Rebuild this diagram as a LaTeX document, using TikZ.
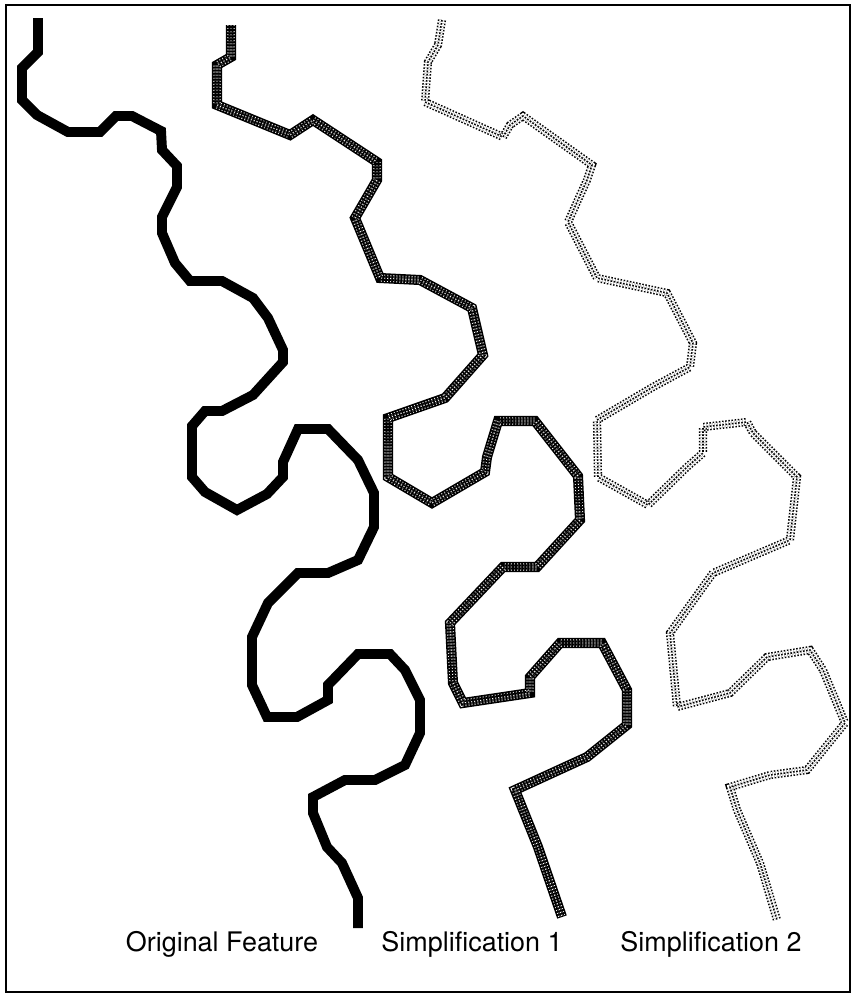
\documentclass[tikz,border=0pt]{standalone}
\usepackage{fontspec}
\setmainfont{TeX Gyre Heros}
\usetikzlibrary{positioning}
\definecolor{inkcolor}{RGB}{0,0,0}
\tikzset{
  orig/.style     = {draw=inkcolor, line width=8.5pt},
  simpbase/.style = {draw=inkcolor, line width=8.6pt},
  holes/.style    = {draw=white, line width=0.8pt, dash pattern=on 0.8pt off 1.8pt},
  dots/.style     = {draw=inkcolor, line width=1.3pt, dash pattern=on 1.3pt off 1.4pt},
  caption/.style  = {font=\fontsize{23}{27}\selectfont, inner sep=0pt},
}
\begin{document}
\begin{tikzpicture}[x=0.03cm, y=-0.03cm]
  \useasboundingbox (0,0) rectangle (857,996);
  \draw[line width=1.7pt] (6,5) rectangle (850,992);
  % original feature
  \draw[orig] (38,18) -- (38,52) -- (22,68) -- (22,100) -- (37,115) -- (68,132)
    -- (100,132) -- (116,116) -- (132,116) -- (161,131) -- (162,150) -- (177,166)
    -- (177,187) -- (162,217) -- (162,233) -- (175,263) -- (190,281) -- (222,281)
    -- (253,298) -- (268,318) -- (283,350) -- (283,362) -- (253,395) -- (222,411)
    -- (205,411) -- (192,426) -- (192,477) -- (205,492) -- (237,510) -- (267,494)
    -- (283,477) -- (283,462) -- (298,429) -- (328,429) -- (358,460) -- (374,493)
    -- (374,527) -- (358,560) -- (328,573) -- (298,573) -- (268,603) -- (252,637)
    -- (252,685) -- (267,717) -- (297,717) -- (328,700) -- (328,685) -- (358,654)
    -- (390,654) -- (405,670) -- (420,700) -- (420,733) -- (405,765) -- (375,780)
    -- (345,780) -- (313,797) -- (313,813) -- (327,847) -- (342,863) -- (358,898)
    -- (358,928);
  % simplification 1
  \def\simpone{(231,25) -- (231,57) -- (217,65) -- (217,105) -- (290,135) -- (313,120)
    -- (377,162) -- (377,180) -- (355,218) -- (380,278) -- (420,280) -- (472,308)
    -- (483,355) -- (445,398) -- (388,418) -- (388,477) -- (432,503) -- (485,472)
    -- (487,457) -- (498,421) -- (535,421) -- (578,476) -- (580,520) -- (537,567)
    -- (503,567) -- (450,623) -- (453,683) -- (463,703) -- (530,693) -- (530,677)
    -- (560,643) -- (602,643) -- (627,690) -- (627,725) -- (587,757) -- (515,790)
    -- (538,847) -- (562,917)}
  \draw[simpbase] \simpone;
  \draw[holes, double=inkcolor, double distance=4.4pt] \simpone;
  \draw[holes] \simpone;
  % simplification 2
  \def\simptwo{(442,20) -- (438,45) -- (428,62) -- (425,102) -- (503,137) -- (510,125)
    -- (523,116) -- (592,165) -- (587,180) -- (568,222) -- (597,278) -- (667,293)
    -- (693,343) -- (690,367) -- (653,387) -- (597,420) -- (598,477) -- (648,505)
    -- (687,467) -- (703,453) -- (703,427) -- (747,422) -- (753,433) -- (797,477)
    -- (790,540) -- (713,573) -- (670,633) -- (677,707) -- (730,693) -- (767,657)
    -- (810,650) -- (823,670) -- (845,723) -- (807,770) -- (770,775) -- (730,787)
    -- (737,810) -- (760,863) -- (777,920)}
  \draw[dots, double=white, double distance=4.4pt] \simptwo;
  \draw[dots] \simptwo;
  % captions
  \node[caption] (origlabel) at (222,944) {Original Feature};
  \node[caption] (simponelabel) at (472,944) {Simplification 1};
  \node[caption] (simptwolabel) at (711,944) {Simplification 2};
\end{tikzpicture}
\end{document}
